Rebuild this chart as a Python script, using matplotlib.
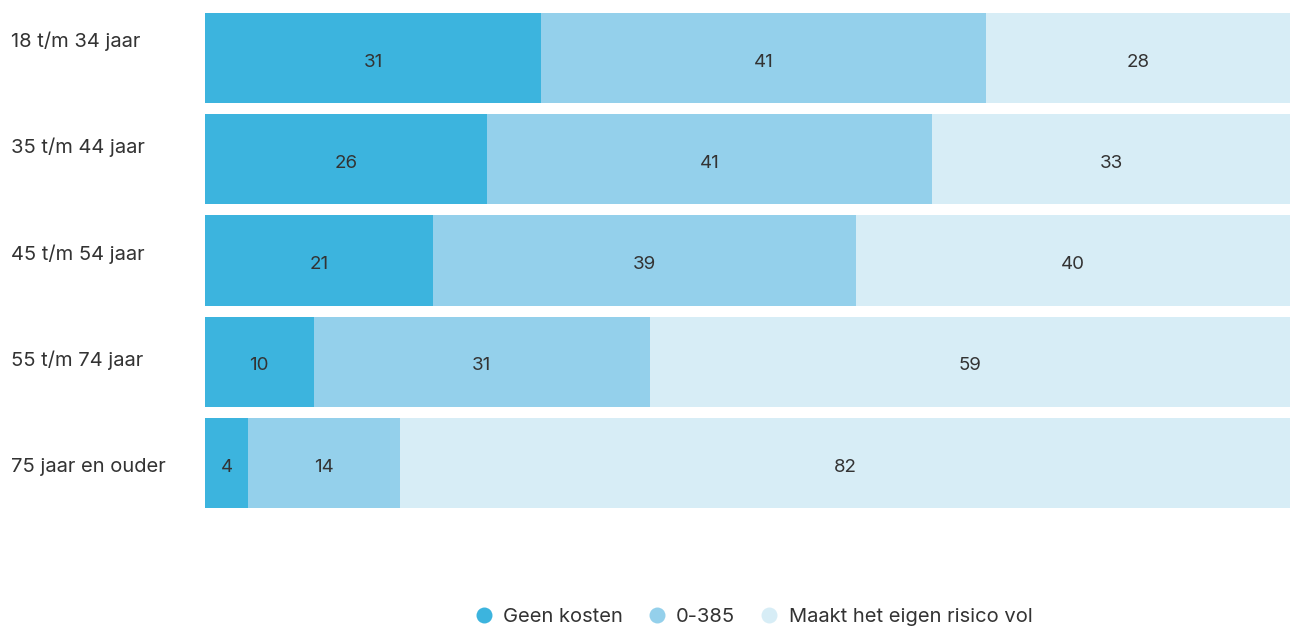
import numpy as np
import matplotlib as mpl
mpl.use('Agg')
import matplotlib.pyplot as plt
from matplotlib.lines import Line2D
from matplotlib.transforms import blended_transform_factory

groups = ['18 t/m 34 jaar', '35 t/m 44 jaar', '45 t/m 54 jaar',
          '55 t/m 74 jaar', '75 jaar en ouder']
series = ['Geen kosten', '0-385', 'Maakt het eigen risico vol']
geen_kosten = [31, 26, 21, 10, 4]
tot_385 = [41, 41, 39, 31, 14]
risico_vol = [28, 33, 40, 59, 82]

colors = ['#3cb4de', '#94d0eb', '#d7edf6']
txt = '#333333'
plt.rcParams['font.family'] = ['Inter', 'DejaVu Sans']

W, H = 1290, 628
fig = plt.figure(figsize=(W / 100, H / 100), dpi=100)
ax = fig.add_axes([205 / W, 1 - 513.65 / H, 1085 / W, 506.3 / H])

y = np.arange(len(groups))
left = np.zeros(len(groups))
for vals, c in zip([geen_kosten, tot_385, risico_vol], colors):
    vals = np.array(vals, dtype=float)
    ax.barh(y, vals, left=left, height=0.89, color=c, edgecolor='none')
    for yi, l, v in zip(y, left, vals):
        ax.text(l + v / 2, yi + 0.04, '%d' % v, ha='center', va='center',
                fontsize=13.5, color=txt)
    left += vals

ax.set_xlim(0, 100)
ax.set_ylim(len(groups) - 0.5, -0.5)
ax.axis('off')

# group labels sit near the top of each bar, spaced slightly wider than the bars
tr = blended_transform_factory(fig.transFigure, ax.transData)
for i, g in enumerate(groups):
    ax.text(11 / W, -0.165 + 1.051 * i, g, transform=tr, ha='left', va='center',
            fontsize=14.5, color=txt)

handles = [Line2D([], [], marker='o', linestyle='none', markersize=11.5,
                  markerfacecolor=c, markeredgecolor='none') for c in colors]
fig.legend(handles, series, loc='center', bbox_to_anchor=(752 / W, 1 - 617 / H),
           ncol=3, frameon=False, fontsize=14.5, labelcolor=txt,
           handletextpad=0.35, columnspacing=1.1, handlelength=1.2)

fig.savefig('out.png', dpi=100)
